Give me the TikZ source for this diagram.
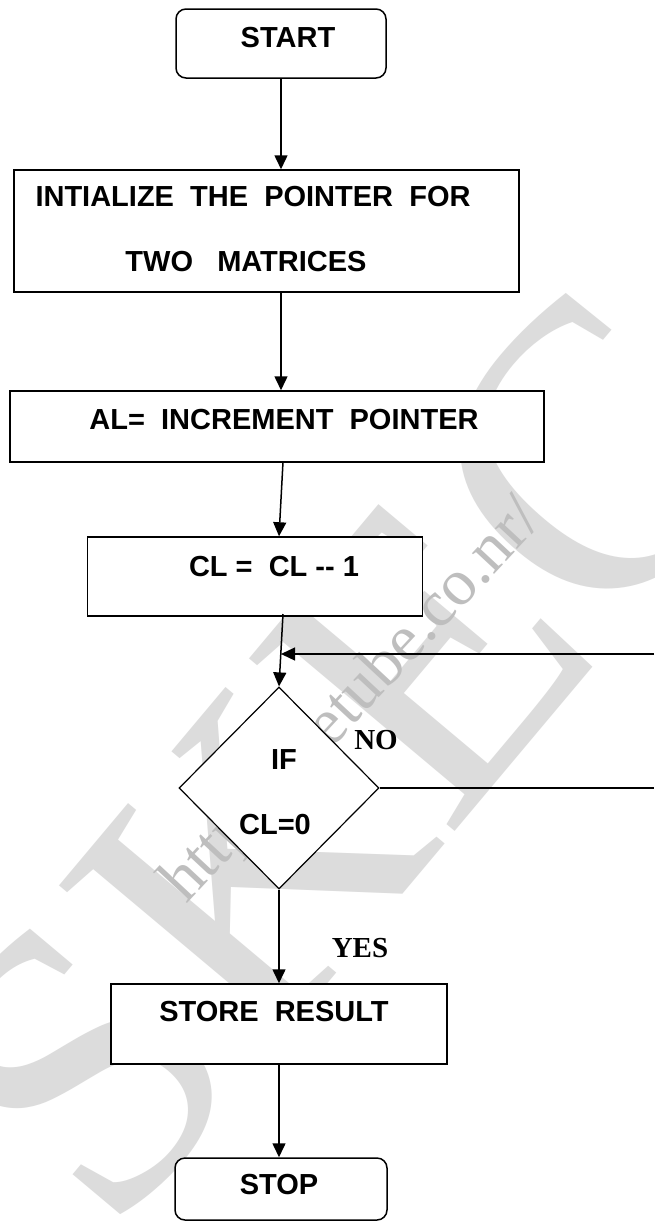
\documentclass[tikz,border=0pt]{standalone}
\usepackage{fontspec}
\setmainfont{Liberation Serif}
\setsansfont{Liberation Sans}
\usetikzlibrary{arrows.meta,shapes.geometric}
\definecolor{wm}{RGB}{220,220,220}
\definecolor{urlc}{RGB}{190,190,190}
\begin{document}
\begin{tikzpicture}[x=1pt,y=-1pt,
  wmark/.style={text=wm,inner sep=0pt,font=\fontsize{410}{410}\selectfont\rmfamily},
  urltext/.style={text=urlc,inner sep=0pt,font=\fontsize{66}{66}\selectfont\rmfamily},
  procbox/.style={draw,line width=1.5pt,fill=white,inner sep=0pt},
  termbox/.style={procbox,rounded corners=10pt},
  decbox/.style={draw,line width=1.2pt,fill=white,shape=diamond,inner sep=0pt},
  lbl/.style={inner sep=0pt,font=\fontsize{29}{34}\selectfont\sffamily\bfseries},
  yn/.style={inner sep=0pt,font=\fontsize{29}{34}\selectfont\rmfamily\bfseries},
  flow/.style={line width=1.5pt,-{Triangle[width=13pt,length=14pt]}},
  plain/.style={line width=1.3pt}]
\useasboundingbox (0,0) rectangle (654,1224);
\fill[white] (0,0) rectangle (654,1224);
% watermark
\node[wmark,rotate=50] (wm) at (345,755) {SKEC};
\node[urltext,rotate=47,anchor=base west] (url) at (186,905) {http://csetube.co.nr/};
% boxes
\node[termbox,minimum width=210pt,minimum height=69pt] (start) at (281,43.5) {};
\node[procbox,minimum width=505pt,minimum height=122pt] (init) at (266.5,231) {};
\node[procbox,minimum width=534pt,minimum height=71pt] (al) at (277,426.5) {};
\node[procbox,minimum width=335pt,minimum height=79pt] (cl) at (255,576.5) {};
\node[decbox,minimum width=200pt,minimum height=202pt] (dec) at (279,788) {};
\node[procbox,minimum width=336pt,minimum height=80pt] (store) at (279,1024) {};
\node[termbox,minimum width=212pt,minimum height=62pt] (stop) at (281,1189) {};
% texts
\node[lbl] (tstart) at (288,38) {START};
\node[lbl] (tinit1) at (253,197) {INTIALIZE\ \ THE\ \ POINTER\ \ FOR};
\node[lbl] (tinit2) at (246,262) {TWO\ \ \ MATRICES};
\node[lbl] (tal) at (284,420) {AL=\ \ INCREMENT\ \ POINTER};
\node[lbl] (tcl) at (274,567) {CL =\ \ CL -{}- 1};
\node[lbl] (tif) at (284,760) {IF};
\node[lbl] (tcl0) at (275,825) {CL=0};
\node[lbl] (tstore) at (274,1012) {STORE\ \ RESULT};
\node[lbl] (tstop) at (279,1185) {STOP};
\node[yn] (tno) at (376,740) {NO};
\node[yn] (tyes) at (360,948) {YES};
% connectors
\coordinate (loopR) at (654,654);
\coordinate (noR) at (654,788);
\coordinate (a3s) at (283,462);
\coordinate (a4s) at (283,614);
\coordinate (loopT) at (281,654);
\draw[flow] (start.south) -- (start.south |- init.north);
\draw[flow] (init.south -| start.south) -- (al.north -| start.south);
\draw[flow] (a3s) -- (cl.north -| dec.north);
\draw[flow] (a4s) -- (dec.north);
\draw[plain,-{Triangle[width=13pt,length=14pt]}] (loopR) -- (loopT);
\draw[plain] (dec.east) -- (noR);
\draw[flow] (dec.south) -- (store.north);
\draw[flow] (store.south) -- (store.south |- stop.north);
\end{tikzpicture}
\end{document}
